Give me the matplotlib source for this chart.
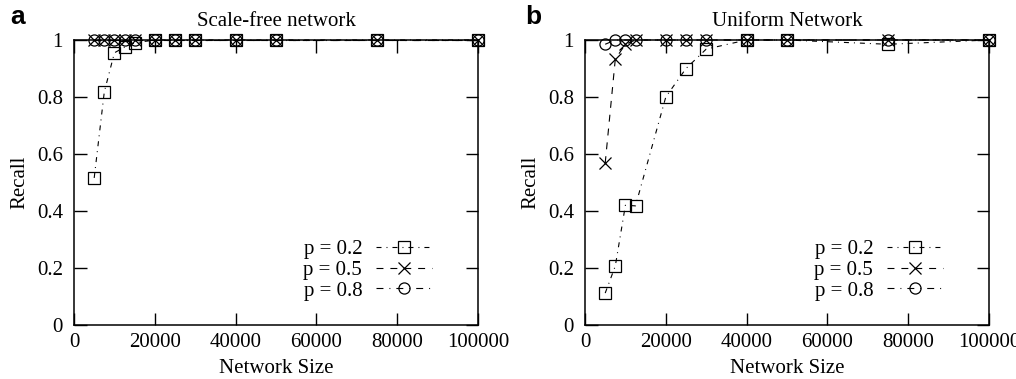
import matplotlib
matplotlib.use("Agg")
import matplotlib.pyplot as plt

plt.rcParams['font.family'] = ['Liberation Serif', 'DejaVu Serif']
plt.rcParams['lines.scale_dashes'] = False

# ---- data ----
sizes_a = [5000, 7500, 10000, 12500, 15000, 20000, 25000, 30000, 40000, 50000, 75000, 100000]
a_p02 = [0.516, 0.818, 0.955, 0.975, 0.99, 1, 1, 1, 1, 1, 1, 1]
a_p05 = [1, 1, 1, 1, 1, 1, 1, 1, 1, 1, 1, 1]
a_p08 = [1, 1, 1, 1, 1, 1, 1, 1, 1, 1, 1, 1]

sizes_b = [5000, 7500, 10000, 12500, 20000, 25000, 30000, 40000, 50000, 75000, 100000]
b_p02 = [0.112, 0.207, 0.42, 0.418, 0.80, 0.90, 0.968, 1, 1, 0.985, 1]
b_p05 = [0.568, 0.933, 0.985, 1, 1, 1, 1, 1, 1, 1, 1]
b_p08 = [0.985, 1, 1, 1, 1, 1, 1, 1, 1, 1, 1]

labels = ['p = 0.2', 'p = 0.5', 'p = 0.8']
titles = ['Scale-free network', 'Uniform Network']
panel_letters = ['a', 'b']
xticks = [0, 20000, 40000, 60000, 80000, 100000]
yticks = [0, 0.2, 0.4, 0.6, 0.8, 1]
ytick_labels = ['0', '0.2', '0.4', '0.6', '0.8', '1']

W, H = 1016, 379
fig = plt.figure(figsize=(W / 100, H / 100), dpi=100)

def box(l, r, t, b):
    return [l / W, 1 - b / H, (r - l) / W, (b - t) / H]

axes = [fig.add_axes(box(74, 478, 40, 325)), fig.add_axes(box(585, 989, 40, 325))]

styles = [
    dict(marker='s', ls=(0, (3.6, 3.6, 0.7, 3.6))),
    dict(marker='x', ls=(0, (5, 5))),
    dict(marker='o', ls=(0, (5, 4.3, 0.7, 4.3))),
]

data = [(sizes_a, [a_p02, a_p05, a_p08]), (sizes_b, [b_p02, b_p05, b_p08])]
FS = 15

for i, ax in enumerate(axes):
    xs, series = data[i]
    for j, ys in enumerate(series):
        st = styles[j]
        ax.plot(xs, ys, color='black', lw=0.8, linestyle=st['ls'],
                marker=st['marker'], markersize=8 if st['marker'] != 'x' else 9,
                markerfacecolor='none', markeredgecolor='black', markeredgewidth=0.9,
                clip_on=False, label=labels[j], zorder=3)
    ax.set_xlim(0, 100000)
    ax.set_ylim(0, 1)
    ax.set_xticks(xticks)
    ax.set_xticklabels([str(v) for v in xticks])
    ax.set_yticks(yticks)
    ax.set_yticklabels(ytick_labels)
    ax.tick_params(direction='in', length=9, width=1.0, top=True, right=True,
                   labelsize=FS)
    ax.tick_params(axis='y', pad=8)
    ax.tick_params(axis='x', pad=6)
    for sp in ax.spines.values():
        sp.set_linewidth(1.1)
    ax.set_xlabel('Network Size', fontsize=FS, labelpad=5)
    ax.set_ylabel('Recall', fontsize=FS, labelpad=5)
    ax.set_title(titles[i], fontsize=FS, pad=10)
    ax.legend(loc='lower right', bbox_to_anchor=(0.886, 0.085), frameon=False,
              markerfirst=False, fontsize=FS, handlelength=2.7, handletextpad=0.65,
              labelspacing=0.06, borderpad=0, borderaxespad=0)

fig.text(10 / W, 1 - 17 / H, 'a', fontsize=19, fontweight='bold',
         family='Liberation Sans', va='center', ha='left')
fig.text(525 / W, 1 - 17 / H, 'b', fontsize=19, fontweight='bold',
         family='Liberation Sans', va='center', ha='left')

fig.savefig('out.png', dpi=100)
